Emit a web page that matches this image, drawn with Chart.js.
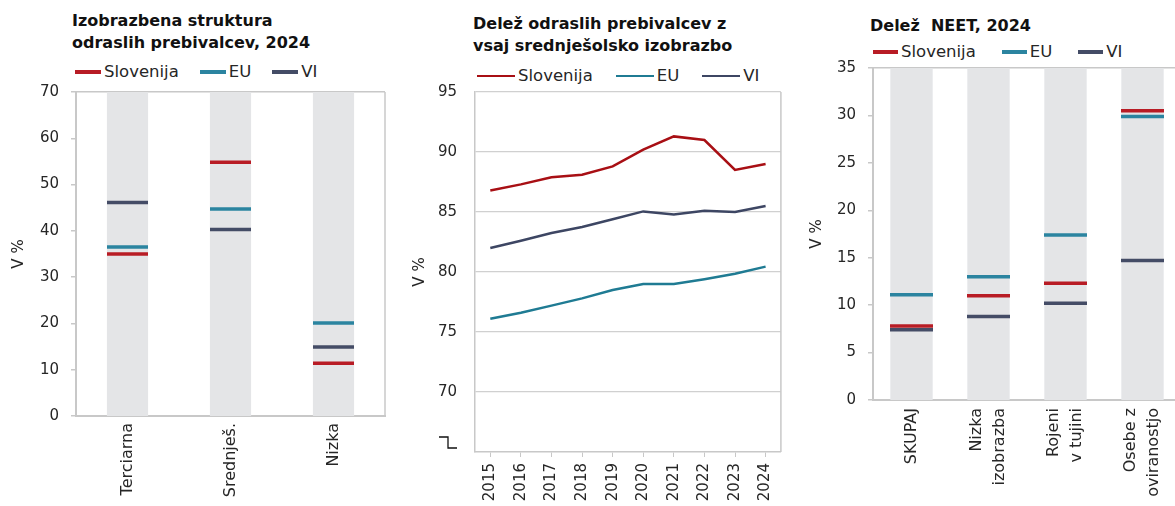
<!DOCTYPE html>
<html>
<head>
<meta charset="utf-8">
<script src="https://cdn.jsdelivr.net/npm/chart.js@4.4.1/dist/chart.umd.min.js"></script>
<style>
  body { margin: 0; background: #fff; width: 1175px; height: 506px; overflow: hidden; position: relative; font-family: 'DejaVu Sans', sans-serif; }
  canvas { position: absolute; top: 0; }
  .title { position: absolute; font-weight: bold; font-size: 16px; line-height: 22px; color: #111; white-space: nowrap; }
  .legend { position: absolute; display: flex; align-items: center; font-size: 16.5px; line-height: 20px; color: #262626; white-space: nowrap; }
  .legend span.line { display: inline-block; }
</style>
</head>
<body>
<div class="title" style="left:72px; top:10px;">Izobrazbena struktura<br>odraslih prebivalcev, 2024</div>
<div class="title" style="left:473px; top:13px;">Delež odraslih prebivalcev z<br>vsaj srednješolsko izobrazbo</div>
<div class="title" style="left:870px; top:15px;">Delež&nbsp; NEET, 2024</div>
<div class="legend" id="legend1" style="left:75px; top:62px;"></div>
<div class="legend" id="legend2" style="left:477px; top:66px;"></div>
<div class="legend" id="legend3" style="left:873px; top:42px;"></div>
<canvas id="eduChart" width="392" height="506" style="left:0px;"></canvas>
<canvas id="shareChart" width="395" height="506" style="left:395px;"></canvas>
<canvas id="neetChart" width="400" height="506" style="left:790px;"></canvas>
<script>
// data
const seriesNames = ['Slovenija', 'EU', 'VI'];

const eduCategories = ['Terciarna', 'Srednješ.', 'Nizka'];
const eduSlovenija = [35.0, 54.8, 11.4];
const eduEU = [36.5, 44.7, 20.1];
const eduVI = [46.1, 40.3, 14.9];

const years = ['2015', '2016', '2017', '2018', '2019', '2020', '2021', '2022', '2023', '2024'];
const shareSlovenija = [86.8, 87.3, 87.9, 88.1, 88.8, 90.2, 91.3, 91.0, 88.5, 89.0];
const shareEU = [76.1, 76.6, 77.2, 77.8, 78.5, 79.0, 79.0, 79.4, 79.85, 80.45];
const shareVI = [82.0, 82.6, 83.25, 83.75, 84.4, 85.05, 84.8, 85.1, 85.0, 85.5];

const neetCategories = ['SKUPAJ', ['Nizka', 'izobrazba'], ['Rojeni', 'v tujini'], ['Osebe z', 'oviranostjo']];
const neetSlovenija = [7.8, 11.0, 12.3, 30.5];
const neetEU = [11.1, 13.0, 17.4, 29.9];
const neetVI = [7.4, 8.8, 10.2, 14.7];

const markColors = ['#b81c25', '#2b84a0', '#444c66'];
const lineColors = ['#a80f14', '#1f7b93', '#3d4663'];
const axisGrey = '#c8c8c8';
const textColor = '#262626';
const fontFamily = "'DejaVu Sans', sans-serif";

Chart.defaults.font.family = fontFamily;
Chart.defaults.color = textColor;
Chart.defaults.animation = false;

function buildLegend(id, colors, lineW, lineH, gap) {
    const el = document.getElementById(id);
    seriesNames.forEach(function(name, i) {
        const line = document.createElement('span');
        line.className = 'line';
        line.style.width = lineW + 'px';
        line.style.height = lineH + 'px';
        line.style.background = colors[i];
        line.style.marginRight = '3px';
        const txt = document.createElement('span');
        txt.textContent = name;
        if (i < seriesNames.length - 1) txt.style.marginRight = gap + 'px';
        el.appendChild(line);
        el.appendChild(txt);
    });
}
buildLegend('legend1', markColors, 26, 4, 21);
buildLegend('legend2', lineColors, 38, 2.5, 23);
buildLegend('legend3', markColors, 25, 4, 26);

// grey column behind each category
const bandPlugin = {
    id: 'bands',
    beforeDatasetsDraw(chart, args, opts) {
        const x = chart.scales.x;
        const area = chart.chartArea;
        const ctx = chart.ctx;
        const step = x.width / chart.data.labels.length;
        ctx.save();
        ctx.fillStyle = opts.color;
        chart.data.labels.forEach(function(l, i) {
            const cx = x.getPixelForValue(i);
            const w = step * opts.width;
            ctx.fillRect(cx - w / 2, area.top, w, area.bottom - area.top);
        });
        ctx.restore();
    }
};

// vertical category labels, several lines centred on the tick
const centredLabels = {
    id: 'centredLabels',
    afterDraw(chart, args, opts) {
        const x = chart.scales.x;
        const ctx = chart.ctx;
        ctx.save();
        ctx.font = opts.size + 'px ' + fontFamily;
        ctx.fillStyle = textColor;
        ctx.textAlign = 'right';
        ctx.textBaseline = 'middle';
        chart.data.labels.forEach(function(label, i) {
            const lines = Array.isArray(label) ? label : [label];
            ctx.save();
            ctx.translate(x.getPixelForValue(i), x.top + opts.pad);
            ctx.rotate(-Math.PI / 2);
            lines.forEach(function(t, j) {
                ctx.fillText(t, 0, (j - (lines.length - 1) / 2) * opts.lineHeight);
            });
            ctx.restore();
        });
        ctx.restore();
    }
};

// right side of the plot box
const frameRight = {
    id: 'frameRight',
    beforeDatasetsDraw(chart) {
        const a = chart.chartArea;
        const ctx = chart.ctx;
        ctx.save();
        ctx.strokeStyle = axisGrey;
        ctx.lineWidth = 1.5;
        ctx.beginPath();
        ctx.moveTo(a.right, a.top);
        ctx.lineTo(a.right, a.bottom);
        ctx.stroke();
        ctx.restore();
    }
};

// axis break sign in place of the lowest tick
const axisBreak = {
    id: 'axisBreak',
    afterDraw(chart) {
        const y = chart.scales.y;
        const b = y.getPixelForValue(y.min);
        const l = chart.chartArea.left;
        const ctx = chart.ctx;
        ctx.save();
        ctx.strokeStyle = '#111';
        ctx.lineWidth = 1.3;
        ctx.beginPath();
        ctx.moveTo(l - 36, b - 15);
        ctx.lineTo(l - 27, b - 15);
        ctx.lineTo(l - 27, b - 4);
        ctx.lineTo(l - 18, b - 4);
        ctx.stroke();
        ctx.restore();
    }
};

function markSet(values, i, radius) {
    return {
        label: seriesNames[i],
        data: values,
        showLine: false,
        pointStyle: 'line',
        pointRadius: radius,
        pointHoverRadius: radius,
        pointBorderWidth: 3.5,
        pointBorderColor: markColors[i],
        borderColor: markColors[i]
    };
}

function markChart(canvasId, labels, sets, opt) {
    const plugins = [bandPlugin];
    if (opt.frame) plugins.push(frameRight);
    if (opt.customLabels) plugins.push(centredLabels);
    return new Chart(document.getElementById(canvasId), {
        type: 'line',
        data: {
            labels: labels,
            datasets: sets.map(function(v, i) { return markSet(v, i, opt.radius); })
        },
        options: {
            responsive: false,
            layout: { autoPadding: false, padding: { top: opt.top, right: opt.right, bottom: 0, left: 0 } },
            plugins: {
                legend: { display: false },
                tooltip: { enabled: false },
                bands: { color: '#e4e5e7', width: opt.band },
                centredLabels: { size: 16, pad: opt.labelPad, lineHeight: 23 }
            },
            scales: {
                x: {
                    offset: true,
                    grid: { drawOnChartArea: false, drawTicks: false },
                    border: { color: axisGrey, width: 2 },
                    ticks: { display: !opt.customLabels, maxRotation: 90, minRotation: 90, autoSkip: false,
                             padding: opt.labelPad, font: { size: 16, lineHeight: 1.4 }, color: textColor },
                    afterFit: function(s) { s.height = opt.xHeight; s.paddingLeft = 0; s.paddingRight = 0; }
                },
                y: {
                    min: 0,
                    max: opt.max,
                    ticks: { stepSize: opt.step, padding: 12, font: { size: 15 }, color: textColor },
                    grid: {
                        color: function(c) { return c.tick && c.tick.value === opt.max ? axisGrey : 'rgba(0,0,0,0)'; },
                        tickColor: axisGrey,
                        tickLength: 5,
                        lineWidth: 1.5
                    },
                    border: { color: axisGrey, width: 2 },
                    title: { display: true, text: 'V %', font: { size: 15 }, color: textColor, padding: opt.titlePad },
                    afterFit: function(s) { s.width = opt.yWidth; }
                }
            }
        },
        plugins: plugins
    });
}

markChart('eduChart', eduCategories, [eduSlovenija, eduEU, eduVI],
    { radius: 20.5, top: 92, right: 7, band: 0.4, max: 70, step: 10, xHeight: 90, yWidth: 76, labelPad: 7, titlePad: 10, frame: true });

markChart('neetChart', neetCategories, [neetSlovenija, neetEU, neetVI],
    { radius: 21.5, top: 68, right: 9, band: 0.55, max: 35, step: 5, xHeight: 106, yWidth: 83, labelPad: 8, titlePad: 18, frame: false, customLabels: true });

new Chart(document.getElementById('shareChart'), {
    type: 'line',
    data: {
        labels: years,
        datasets: [shareSlovenija, shareEU, shareVI].map(function(v, i) {
            return {
                label: seriesNames[i],
                data: v,
                borderColor: lineColors[i],
                backgroundColor: lineColors[i],
                borderWidth: 2.5,
                pointRadius: 0,
                tension: 0
            };
        })
    },
    options: {
        responsive: false,
        layout: { autoPadding: false, padding: { top: 92, right: 8, bottom: 0, left: 0 } },
        plugins: { legend: { display: false }, tooltip: { enabled: false } },
        scales: {
            x: {
                offset: true,
                grid: { drawOnChartArea: false, tickLength: 5, color: axisGrey, tickColor: axisGrey },
                border: { color: axisGrey, width: 1.5 },
                ticks: { maxRotation: 90, minRotation: 90, autoSkip: false, padding: 6, font: { size: 15 }, color: textColor },
                afterFit: function(s) { s.height = 54; }
            },
            y: {
                min: 65,
                max: 95,
                ticks: {
                    stepSize: 5,
                    padding: 18,
                    font: { size: 15 },
                    color: textColor,
                    callback: function(v) { return v === 65 ? '' : v; }
                },
                grid: {
                    drawTicks: false,
                    color: function(c) { return c.tick && c.tick.value === 65 ? 'rgba(0,0,0,0)' : '#d0d0d0'; },
                    lineWidth: 1.3
                },
                border: { color: axisGrey, width: 1.5 },
                title: { display: true, text: 'V %', font: { size: 15 }, color: textColor, padding: 16 },
                afterFit: function(s) { s.width = 80; }
            }
        }
    },
    plugins: [frameRight, axisBreak]
});
</script>
</body>
</html>
